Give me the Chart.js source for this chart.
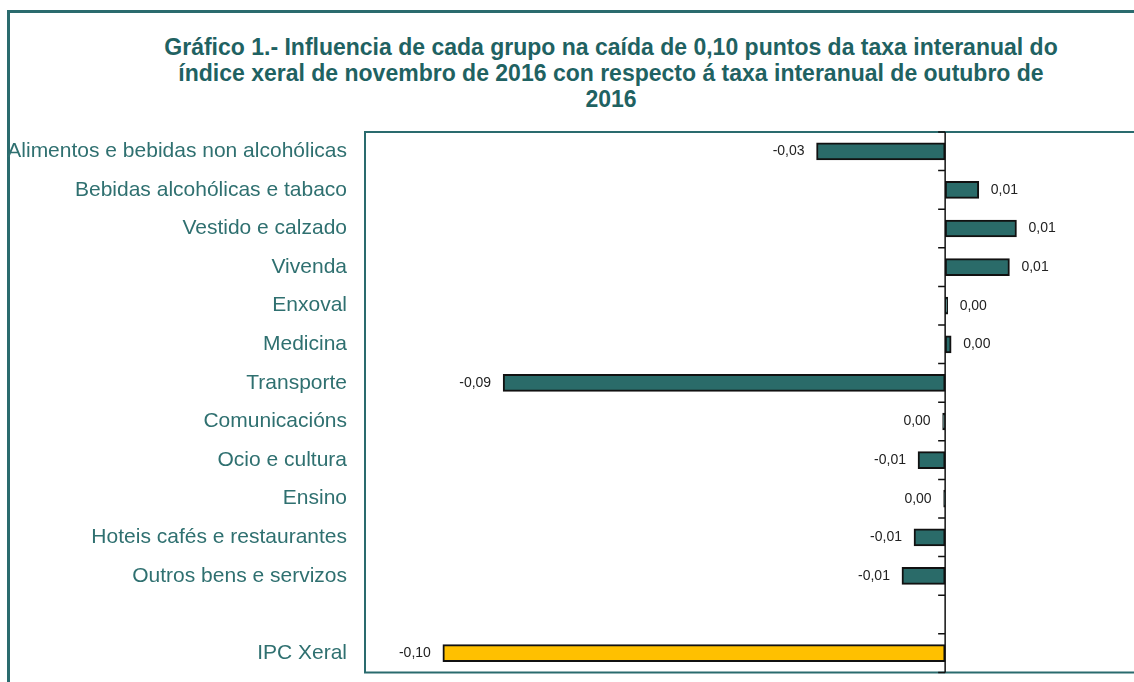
<!DOCTYPE html>
<html>
<head>
<meta charset="utf-8">
<script src="https://cdn.jsdelivr.net/npm/chart.js@4.4.0/dist/chart.umd.min.js"></script>
<style>
  body { margin: 0; background: #fff; }
  #caixa { position: relative; width: 1134px; height: 682px; overflow: hidden; }
  #marco { position: absolute; left: 7px; top: 10px; width: 1200px; height: 720px;
           border-top: 3px solid #2a6b6e; border-left: 3px solid #2a6b6e; }
  #titulo { position: absolute; left: 140px; width: 942px; top: 34px; text-align: center;
            font: bold 23px "Liberation Sans", Arial, sans-serif;
            color: #1f6262; line-height: 26px; }
  #grafico { position: absolute; left: 0; top: 0; }
</style>
</head>
<body>
<div id="caixa">
  <div id="marco"></div>
  <div id="titulo">Gráfico 1.- Influencia de cada grupo na caída de 0,10 puntos da taxa interanual do<br>índice xeral de novembro de 2016 con respecto á taxa interanual de outubro de<br>2016</div>
  <canvas id="grafico" width="1134" height="703"></canvas>
</div>
<script>
// grupos (a fila baleira separa o total)
var grupos = [
  'Alimentos e bebidas non alcohólicas',
  'Bebidas alcohólicas e tabaco',
  'Vestido e calzado',
  'Vivenda',
  'Enxoval',
  'Medicina',
  'Transporte',
  'Comunicacións',
  'Ocio e cultura',
  'Ensino',
  'Hoteis cafés e restaurantes',
  'Outros bens e servizos',
  '',
  'IPC Xeral'
];

// influencia en puntos
var influencia = [-0.0256, 0.0067, 0.0142, 0.0128, 0.0005, 0.0012, -0.0880, -0.0005, -0.0054, -0.0003, -0.0062, -0.0086, null, -0.1000];

var total = 'IPC Xeral';

function formato(v) {
  if (Math.abs(v) < 0.005) return '0,00';
  return v.toFixed(2).replace('.', ',');
}

// liña do cero, marcas, caixa e etiquetas
var extras = {
  id: 'extras',
  afterDatasetsDraw: function(chart) {
    var ctx = chart.ctx;
    var xs = chart.scales.x, ys = chart.scales.y, a = chart.chartArea;
    var x0 = xs.getPixelForValue(0);
    ctx.save();

    // caixa da área
    ctx.strokeStyle = '#2a6b6e';
    ctx.lineWidth = 2;
    ctx.beginPath();
    ctx.moveTo(a.right + 5, a.top);
    ctx.lineTo(a.left, a.top);
    ctx.lineTo(a.left, a.bottom);
    ctx.lineTo(a.right + 5, a.bottom);
    ctx.stroke();

    // eixo vertical no cero
    ctx.strokeStyle = '#111';
    ctx.lineWidth = 1.5;
    ctx.beginPath();
    ctx.moveTo(x0, a.top);
    ctx.lineTo(x0, a.bottom);
    var paso = ys.getPixelForValue(1) - ys.getPixelForValue(0);
    for (var i = 0; i <= grupos.length; i++) {
      var yy = ys.getPixelForValue(i) - paso / 2;
      ctx.moveTo(x0 - 7, yy);
      ctx.lineTo(x0, yy);
    }
    ctx.stroke();

    // etiquetas
    ctx.font = '14px "Liberation Sans", Arial, sans-serif';
    ctx.fillStyle = '#222';
    ctx.textBaseline = 'middle';
    var meta = chart.getDatasetMeta(0);
    meta.data.forEach(function(el, i) {
      var v = influencia[i];
      if (v === null) return;
      if (v < 0) {
        ctx.textAlign = 'right';
        ctx.fillText(formato(v), el.x - 12, el.y);
      } else {
        ctx.textAlign = 'left';
        ctx.fillText(formato(v), el.x + 12, el.y);
      }
    });
    ctx.restore();
  }
};

var chart = new Chart(document.getElementById('grafico'), {
  type: 'bar',
  data: {
    labels: grupos,
    datasets: [{
      data: influencia,
      backgroundColor: function(c) { return grupos[c.dataIndex] === total ? '#ffc000' : '#2a6b69'; },
      borderColor: '#111',
      borderWidth: 2,
      borderSkipped: false,
      barThickness: 17
    }]
  },
  options: {
    indexAxis: 'y',
    responsive: false,
    animation: false,
    layout: { padding: { top: 132, bottom: 10, left: 0, right: 0 } },
    plugins: {
      legend: { display: false },
      tooltip: { enabled: false }
    },
    scales: {
      x: {
        display: false,
        min: -0.1155,
        max: 0.0376
      },
      y: {
        grid: { display: false, drawTicks: false },
        border: { display: false },
        ticks: {
          autoSkip: false,
          padding: 18,
          color: '#2f7070',
          font: { size: 21, family: '"Liberation Sans", Arial, sans-serif' }
        },
        afterFit: function(s) { s.width = 365; }
      }
    }
  },
  plugins: [extras]
});
</script>
</body>
</html>
